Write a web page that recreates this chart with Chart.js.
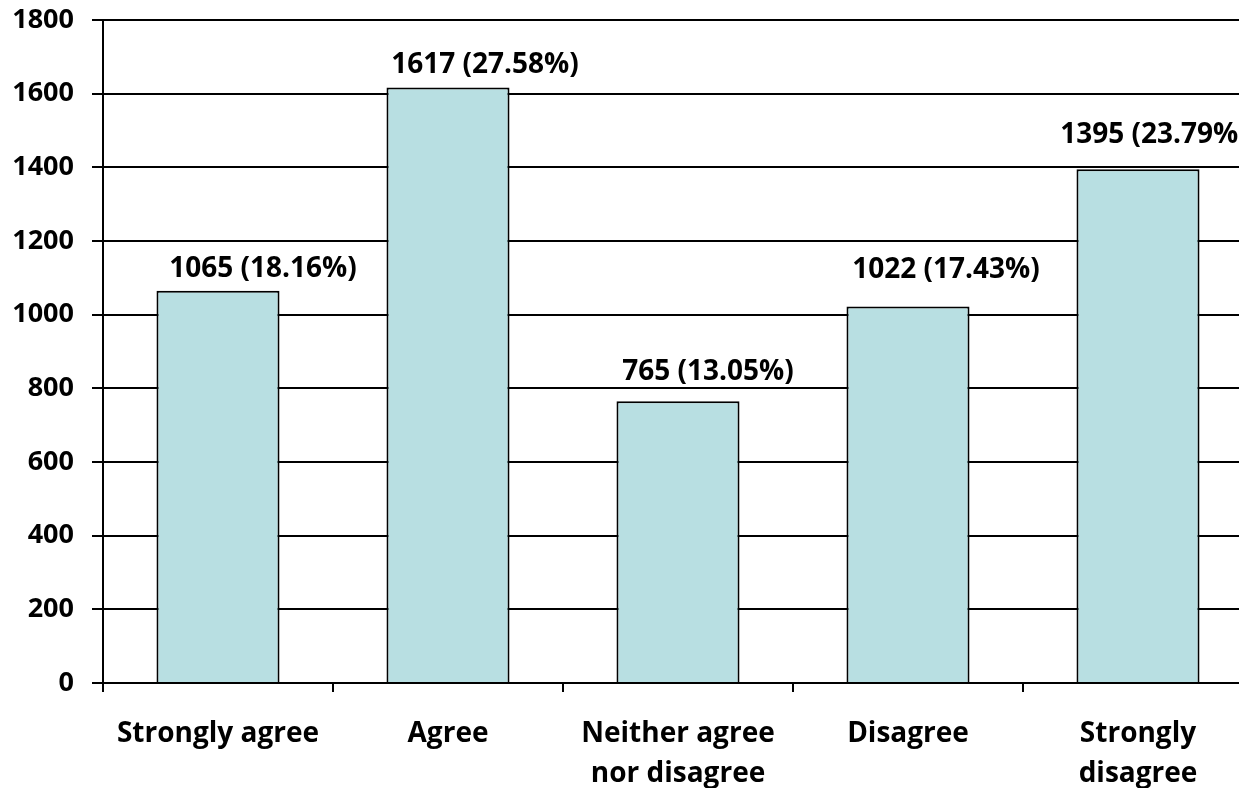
<!DOCTYPE html>
<html>
<head>
<meta charset="utf-8">
<script src="https://cdn.jsdelivr.net/npm/chart.js@4.4.0/dist/chart.umd.min.js"></script>
<style>
  html, body { margin: 0; padding: 0; background: #fff; overflow: hidden; }
  #wrap { width: 1260px; height: 788px; }
</style>
</head>
<body>
<div id="wrap"><canvas id="chart"></canvas></div>
<script>
const categories = ["Strongly agree", "Agree", ["Neither agree", "nor disagree"], "Disagree", ["Strongly", "disagree"]];
const counts = [1065, 1617, 765, 1022, 1395];
const percents = ["18.16%", "27.58%", "13.05%", "17.43%", "23.79%"];
const yTicks = [0, 200, 400, 600, 800, 1000, 1200, 1400, 1600, 1800];

const FONT = "'Open Sans', sans-serif";

// draws "count (pct%)" above each bar; labels sit a bit off-centre like the original
const valueLabels = {
  id: "valueLabels",
  afterDatasetsDraw(chart, args, opts) {
    const ctx = chart.ctx;
    const meta = chart.getDatasetMeta(0);
    ctx.save();
    ctx.font = "bold 28px " + FONT;
    ctx.fillStyle = "#000";
    ctx.textAlign = "center";
    ctx.textBaseline = "middle";
    meta.data.forEach((bar, i) => {
      const shift = opts.shift[i] || [0, 20];
      ctx.fillText(counts[i] + " (" + percents[i] + ")", bar.x + shift[0], bar.y - shift[1]);
    });
    ctx.restore();
  }
};

new Chart(document.getElementById("chart"), {
  type: "bar",
  data: {
    labels: categories,
    datasets: [{
      data: counts,
      backgroundColor: "#B8DFE2",
      borderColor: "#000",
      borderWidth: 2,
      barPercentage: 0.535,
      categoryPercentage: 1
    }]
  },
  options: {
    responsive: true,
    maintainAspectRatio: false,
    animation: false,
    layout: { padding: { top: 20, right: 7, left: 0, bottom: 0 } },
    plugins: {
      legend: { display: false },
      tooltip: { enabled: false },
      valueLabels: { shift: [[45, 22], [37, 22], [30, 29], [38, 37], [16, 34]] }
    },
    scales: {
      x: {
        grid: { offset: true, drawOnChartArea: false, drawTicks: true, tickLength: 9, color: "#000", lineWidth: 2 },
        border: { color: "#000", width: 2 },
        ticks: {
          color: "#000",
          padding: 22,
          maxRotation: 0,
          autoSkip: false,
          font: { family: FONT, size: 28, weight: "bold", lineHeight: 1.43 }
        },
        afterFit(scale) { scale.height = 105; }
      },
      y: {
        min: 0,
        max: 1800,
        afterBuildTicks(scale) { scale.ticks = yTicks.map(v => ({ value: v })); },
        grid: { color: "#000", lineWidth: 2, tickLength: 11 },
        border: { color: "#000", width: 2 },
        ticks: {
          color: "#000",
          padding: 18,
          callback: v => String(v),
          font: { family: FONT, size: 27, weight: "bold" }
        },
        afterFit(scale) {
          scale.width = 103;
          scale.paddingTop = 0;
          scale.paddingBottom = 0;
        }
      }
    }
  },
  plugins: [valueLabels]
});
</script>
</body>
</html>
